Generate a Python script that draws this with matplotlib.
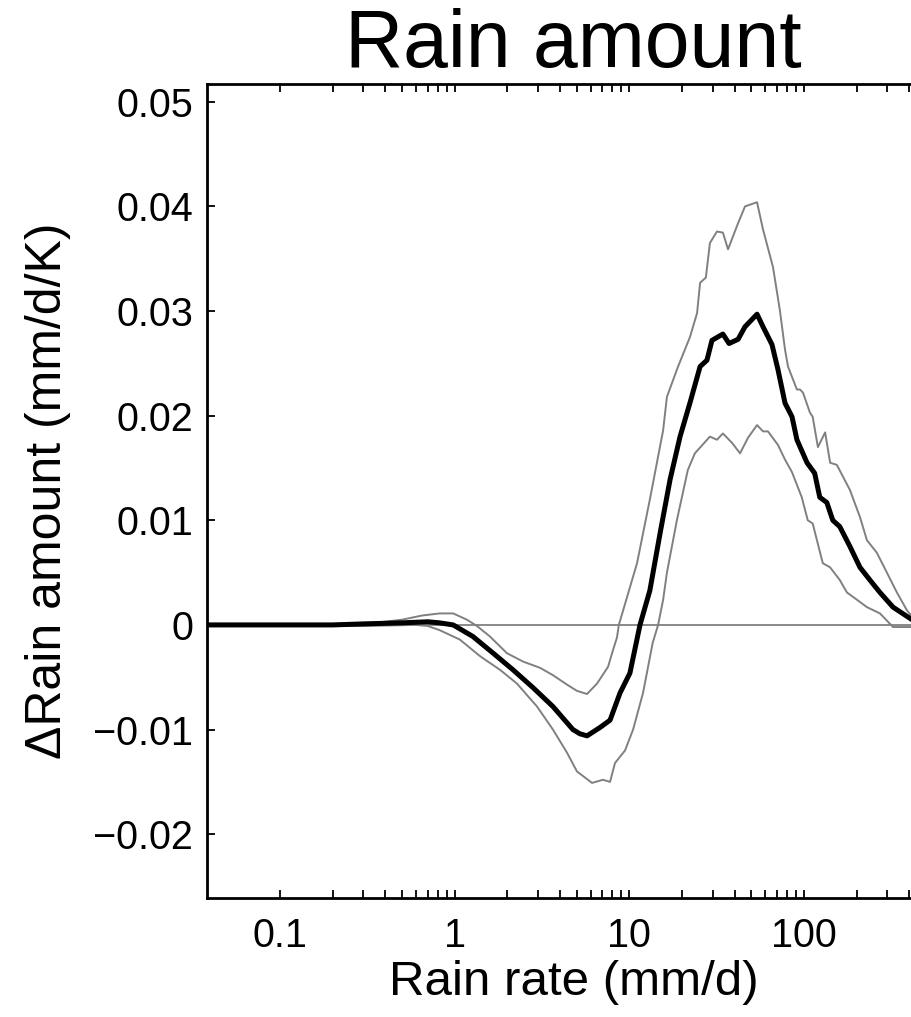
import numpy as np
import matplotlib
matplotlib.use("Agg")
import matplotlib.pyplot as plt
from matplotlib.ticker import FixedLocator, NullFormatter

# ---------------------------
# Data
# ---------------------------
# mean change (thick black)
rate_mean = [0.04, 0.1, 0.2, 0.3, 0.5, 0.7, 0.82, 0.98, 1.27, 1.66, 2.16, 2.81,
             3.65, 4.75, 5.2, 5.72, 6.79, 7.75, 8.84, 10.07, 11.5, 13.1, 15.0,
             17.1, 19.5, 22.2, 25.4, 27.8, 29.7, 34.3, 37.2, 41.9, 45.9, 53.8,
             58.2, 65.5, 70.9, 77.8, 85.3, 91.0, 104, 115, 123, 135, 146, 160,
             183, 209, 238, 272, 323, 415, 500]
d_mean = [0.0, 0.0, 0.0, 0.0001, 0.0002, 0.0003, 0.0002, 0.0, -0.0011, -0.0027,
          -0.0043, -0.0060, -0.0078, -0.0100, -0.0104, -0.0106, -0.0098, -0.0091,
          -0.0065, -0.0046, 0.0, 0.0033, 0.0088, 0.0139, 0.0180, 0.0212, 0.0247,
          0.0253, 0.0272, 0.0278, 0.0269, 0.0273, 0.0285, 0.0297, 0.0285, 0.0268,
          0.0244, 0.0212, 0.0199, 0.0177, 0.0155, 0.0145, 0.0122, 0.0117, 0.0100,
          0.0094, 0.0075, 0.0055, 0.0043, 0.0031, 0.0017, 0.0005, 0.0]

# upper bound (grey)
rate_hi = [0.04, 0.2, 0.35, 0.5, 0.65, 0.82, 0.98, 1.175, 1.34, 1.59, 1.99, 2.46,
           3.08, 3.65, 4.39, 5.01, 5.72, 6.53, 7.55, 8.06, 8.49, 8.7, 9.44, 11.06,
           13.1, 15.6, 16.4, 19.0, 22.2, 24.4, 25.4, 27.4, 28.9, 31.7, 34.3, 36.7,
           41.9, 45.9, 53.8, 58.2, 66.4, 72.8, 77.8, 80.9, 91.0, 94.8, 98.6, 108,
           112, 120, 132, 141, 154, 183, 209, 229, 261, 298, 340, 388, 415, 500]
d_hi = [0.0001, 0.0001, 0.0002, 0.0005, 0.0009, 0.0011, 0.0011, 0.0005, -0.0001,
        -0.0011, -0.0027, -0.0035, -0.0041, -0.0048, -0.0057, -0.0063, -0.0066,
        -0.0056, -0.0040, -0.0024, -0.0012, 0.0, 0.0020, 0.0059, 0.0120, 0.0186,
        0.0218, 0.0247, 0.0275, 0.0298, 0.0327, 0.0332, 0.0365, 0.0376, 0.0375,
        0.0359, 0.0384, 0.0400, 0.0404, 0.0378, 0.0342, 0.0300, 0.0263, 0.0247,
        0.0225, 0.0225, 0.0222, 0.0203, 0.0199, 0.0170, 0.0184, 0.0155, 0.0153,
        0.0129, 0.0103, 0.0081, 0.0069, 0.0050, 0.0031, 0.0014, 0.0008, 0.0]

# lower bound (grey)
rate_lo = [0.04, 0.3, 0.6, 0.7, 0.82, 1.07, 1.40, 1.82, 2.27, 2.96, 3.65, 4.39,
           5.01, 6.11, 7.06, 7.75, 8.27, 9.44, 10.5, 11.97, 13.6, 14.6, 15.6, 16.4,
           18.7, 21.6, 23.7, 28.9, 31.7, 34.3, 38.7, 43.0, 47.8, 53.8, 58.2, 62.1,
           70.9, 77.8, 85.3, 97, 105, 112, 128, 141, 160, 176, 201, 229, 272, 323,
           415, 500]
d_lo = [-0.0001, -0.0001, 0.0, -0.0001, -0.0005, -0.0014, -0.0030, -0.0043,
        -0.0056, -0.0078, -0.0100, -0.0122, -0.0140, -0.0151, -0.0148, -0.0150,
        -0.0132, -0.0120, -0.0100, -0.0065, -0.0017, 0.0, 0.0024, 0.0050, 0.0100,
        0.0148, 0.0164, 0.0180, 0.0177, 0.0183, 0.0174, 0.0164, 0.0179, 0.0191,
        0.0185, 0.0185, 0.0172, 0.0158, 0.0146, 0.0122, 0.0100, 0.0097, 0.0059,
        0.0055, 0.0043, 0.0031, 0.0024, 0.0017, 0.0011, -0.0002, -0.0002, -0.0002]

x_major = [0.1, 1, 10, 100, 1000]
x_major_labels = ["0.1", "1", "10", "100", "1000"]
x_minor = [m * d for d in [0.1, 1, 10, 100] for m in range(2, 10)]
y_ticks = [-0.02, -0.01, 0, 0.01, 0.02, 0.03, 0.04, 0.05]
y_labels = ["\u22120.02", "\u22120.01", "0", "0.01", "0.02", "0.03", "0.04", "0.05"]

# ---------------------------
# Figure
# ---------------------------
plt.rcParams["font.family"] = ["Liberation Sans", "DejaVu Sans"]

fig = plt.figure(figsize=(9.12, 10.17), dpi=100)
ax = fig.add_axes([0.227, 0.117, 0.8037, 0.8004])

grey = "#808080"
ax.axhline(0, color=grey, lw=1.3, zorder=1)
ax.plot(rate_hi, d_hi, color=grey, lw=1.4, zorder=2)
ax.plot(rate_lo, d_lo, color=grey, lw=1.4, zorder=2)
ax.plot(rate_mean, d_mean, color="black", lw=3.6, zorder=3)

ax.set_xscale("log")
ax.set_xlim(0.0382, 600)
ax.set_ylim(-0.0261, 0.0517)

ax.xaxis.set_major_locator(FixedLocator(x_major))
ax.set_xticklabels(x_major_labels)
ax.xaxis.set_minor_locator(FixedLocator(x_minor))
ax.xaxis.set_minor_formatter(NullFormatter())
ax.set_yticks(y_ticks)
ax.set_yticklabels(y_labels)

ax.tick_params(which="both", direction="in", top=True, right=False,
               width=1.3, length=6)
ax.tick_params(axis="both", which="major", labelsize=28.5)
ax.tick_params(axis="x", which="major", pad=14)
ax.tick_params(axis="y", which="major", pad=10)

for s in ["left", "bottom", "top"]:
    ax.spines[s].set_linewidth(2)
ax.spines["right"].set_visible(False)

ax.set_xlabel("Rain rate (mm/d)", fontsize=35.5, labelpad=3)
ax.set_ylabel("\u0394Rain amount (mm/d/K)", fontsize=36, labelpad=16)
ax.set_title("Rain amount", fontsize=58, pad=12)

fig.savefig("out.png", dpi=100)
